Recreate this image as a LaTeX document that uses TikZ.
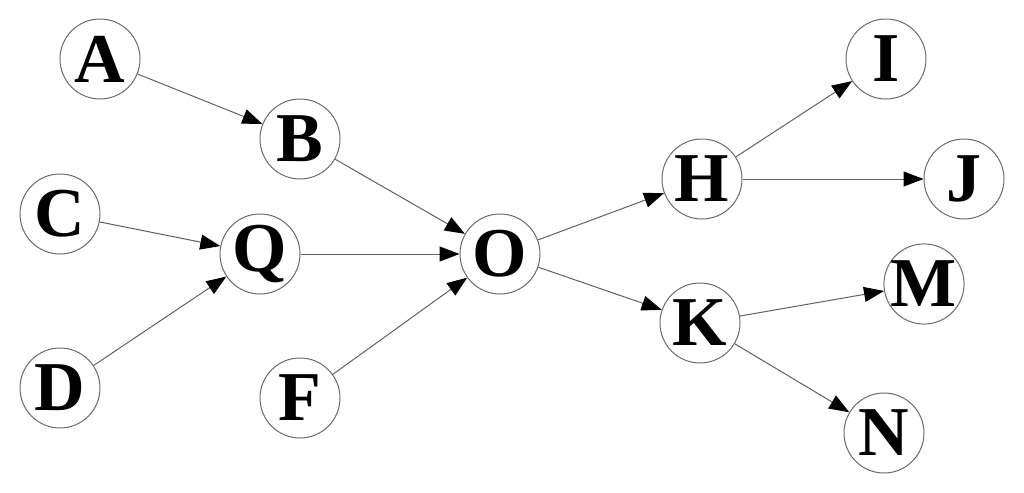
\documentclass[tikz,border=0pt]{standalone}
\usepackage{fontspec}
\setmainfont{Liberation Serif}
\usetikzlibrary{arrows.meta}

\begin{document}
\begin{tikzpicture}[
    x=0.5pt, y=-0.5pt,
    vtx/.style = {circle, draw=black!58, line width=0.5pt, minimum size=40pt,
                  inner sep=0pt, font=\fontsize{35}{40}\selectfont\bfseries},
    edge/.style = {draw=black!62, line width=0.5pt,
                   -{Triangle[length=10pt, width=7.5pt, black]}},
  ]

  % ---------- 画布（与原图同比例）----------
  \useasboundingbox (0,0) rectangle (1024,493);

  % ---------- 左侧节点 ----------
  \node[vtx] (A) at (100, 59)  {A};
  \node[vtx] (B) at (300,139)  {B};
  \node[vtx] (C) at ( 60,214)  {C};
  \node[vtx] (Q) at (260,254)  {Q};
  \node[vtx] (D) at ( 60,388)  {D};
  \node[vtx] (F) at (300,398)  {F};

  % ---------- 中心节点 ----------
  \node[vtx] (O) at (500,254)  {O};

  % ---------- 右侧节点 ----------
  \node[vtx] (H) at (702,179)  {H};
  \node[vtx] (K) at (700,323)  {K};
  \node[vtx] (I) at (886, 59)  {I};
  \node[vtx] (J) at (964,179)  {J};
  \node[vtx] (M) at (924,284)  {M};
  \node[vtx] (N) at (884,433)  {N};

  % ---------- 有向边 ----------
  \draw[edge] (A) -- (B);
  \draw[edge] (B) -- (O);
  \draw[edge] (C) -- (Q);
  \draw[edge] (D) -- (Q);
  \draw[edge] (Q) -- (O);
  \draw[edge] (F) -- (O);
  \draw[edge] (O) -- (H);
  \draw[edge] (O) -- (K);
  \draw[edge] (H) -- (I);
  \draw[edge] (H) -- (J);
  \draw[edge] (K) -- (M);
  \draw[edge] (K) -- (N);

\end{tikzpicture}
\end{document}
